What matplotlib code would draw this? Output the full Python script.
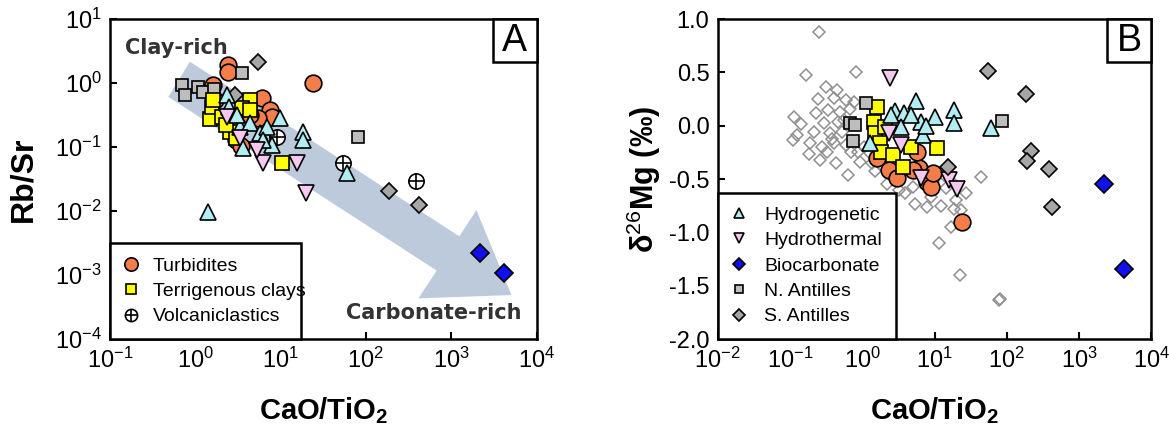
import matplotlib
matplotlib.use('Agg')
import matplotlib.pyplot as plt
from matplotlib.patches import Polygon, Rectangle
from matplotlib.legend_handler import HandlerTuple

plt.rcParams['font.family'] = ['Liberation Sans', 'DejaVu Sans']
plt.rcParams['mathtext.fontset'] = 'custom'
plt.rcParams['mathtext.rm'] = 'Liberation Sans'
plt.rcParams['mathtext.bf'] = 'Liberation Sans:bold'
plt.rcParams['mathtext.it'] = 'Liberation Sans:italic'

# ---- panel A data (CaO/TiO2 vs Rb/Sr) ----
turb_A_x = [2.43, 2.45, 24.2, 1.62, 6.1, 7.6, 8.0, 5.5, 3.0, 3.4, 4.4, 1.7, 2.8]
turb_A_y = [1.91, 1.49, 1.0, 0.93, 0.58, 0.38, 0.30, 0.28, 0.129, 0.104, 0.32, 0.54, 0.2]
nant_A_x = [0.70, 0.76, 1.08, 1.24, 1.66, 3.54, 81.5]
nant_A_y = [0.93, 0.65, 0.87, 0.72, 0.81, 1.43, 0.143]
terr_A_x = [1.49, 10.4, 4.4, 3.54, 2.56, 1.57, 2.06, 4.4, 1.6, 3.0, 2.3]
terr_A_y = [0.274, 0.056, 0.54, 0.41, 0.17, 0.42, 0.295, 0.38, 0.54, 0.14, 0.22]
sant_A_x = [5.46, 2.93, 188, 424]
sant_A_y = [2.13, 0.65, 0.0205, 0.0124]
volc_A_x = [54.3, 391, 9.1]
volc_A_y = [0.056, 0.0295, 0.143]
hydrog_A_x = [2.36, 2.5, 9.9, 18.4, 18.4, 60, 1.41, 3.36, 4.4, 5.75, 6.9, 7.9, 3.63, 6.3, 3.1]
hydrog_A_y = [0.65, 0.42, 0.28, 0.17, 0.128, 0.039, 0.0096, 0.205, 0.237, 0.166, 0.205, 0.107, 0.096, 0.128, 0.32]
hydrot_A_x = [2.36, 3.36, 6.25, 15.7, 20, 5.3]
hydrot_A_y = [0.295, 0.138, 0.056, 0.056, 0.019, 0.09]
bio_A_x = [2200, 4100]
bio_A_y = [0.0022, 0.00107]

# ---- panel B data (CaO/TiO2 vs d26Mg) ----
open_B_x = [0.252, 0.165, 0.81, 0.113, 0.123, 0.109, 0.316, 0.45, 0.246, 0.41, 0.59, 0.76,
            0.23, 0.34, 0.49, 0.67, 0.297, 0.46, 0.217, 0.36, 0.52, 0.19, 0.28, 0.41, 0.59,
            0.18, 0.26, 0.43, 0.63, 0.92, 0.86, 1.26, 1.04, 1.34, 1.95, 2.51, 3.9, 5.35, 7.8,
            12.4, 18.8, 23.2, 16.6, 27.4, 43.5, 11.4, 22.6, 77.6, 81.5, 14.6, 17.6, 8.8, 5.0,
            13.7, 20.0, 0.55, 0.38, 0.7, 1.5, 2.2, 3.2, 9.5, 0.14, 0.32]
open_B_y = [0.875, 0.475, 0.5, 0.084, -0.0875, -0.134, 0.36, 0.334, 0.25, 0.256, 0.24, 0.225,
            0.116, 0.147, 0.131, 0.16, 0.022, 0.0375, -0.056, -0.072, -0.056, -0.166, -0.197,
            -0.166, -0.18, -0.266, -0.322, -0.353, -0.4625, -0.3375, -0.244, -0.26, -0.197,
            -0.353, -0.384, -0.447, -0.634, -0.734, -0.76, -0.753, -0.784, -0.79, -0.947,
            -0.634, -0.478, -1.103, -1.4, -1.634, -1.625, -0.5875, -0.525, -0.666, -0.572,
            -0.4625, -0.697, 0.05, -0.12, -0.25, -0.42, -0.55, -0.6, -0.52, 0.02, -0.25]
turb_B_x = [24.1, 2.36, 3.03, 6.05, 7.8, 8.8, 5.7, 1.62, 9.4, 5.0]
turb_B_y = [-0.906, -0.416, -0.494, -0.4, -0.525, -0.572, -0.244, -0.306, -0.447, -0.415]
terr_B_x = [1.62, 1.43, 1.52, 1.73, 1.8, 2.68, 3.66, 4.71, 10.7, 2.08]
terr_B_y = [0.18, 0.04, -0.07, -0.166, -0.244, -0.275, -0.384, -0.197, -0.21, -0.01]
hydrog_B_x = [5.55, 18.3, 18.7, 59.6, 2.85, 3.8, 10, 6.5, 3.4, 6.9, 2.5, 4.7, 7.7, 1.26]
hydrog_B_y = [0.234, 0.147, 0.022, -0.02, 0.14, 0.12, 0.078, 0.037, -0.01, -0.087, 0.1, 0.1, 0.0, -0.166]
hydrot_B_x = [2.42, 2.36, 3.44, 6.45, 15.9, 20.5]
hydrot_B_y = [0.444, -0.07, -0.18, -0.49, -0.51, -0.59]
nant_B_x = [1.11, 0.67, 0.78, 0.74, 84.7]
nant_B_y = [0.216, 0.028, 0.006, -0.14, 0.047]
sant_B_x = [54.6, 185, 217, 187, 383, 418, 15.5]
sant_B_y = [0.516, 0.297, -0.234, -0.328, -0.406, -0.76, -0.384]
bio_B_x = [2220, 4160]
bio_B_y = [-0.55, -1.34]

ORANGE = '#f47d4a'
YELLOW = '#ffff00'
CYAN = '#b0eef3'
PINK = '#f6c8f0'
BLUE = '#1010ee'
GSQ = '#bdbdbd'
GDI = '#a6a6a6'
OPEN = '#8f8f8f'
ARROW = '#bccadc'

EW = 1.2


def style_axes(ax):
    for s in ax.spines.values():
        s.set_linewidth(1.8)
    ax.tick_params(which='major', direction='in', length=5, width=1.5,
                   labelsize=17, pad=6, top=False, right=False)
    ax.tick_params(which='minor', length=0)


def panel_label(ax, txt):
    ax.add_patch(Rectangle((0.898, 0.867), 0.102, 0.133, transform=ax.transAxes,
                           facecolor='white', edgecolor='black', lw=1.8, zorder=20,
                           clip_on=False))
    ax.text(0.949, 0.933, txt, transform=ax.transAxes, ha='center', va='center',
            fontsize=27, zorder=21)


fig = plt.figure(figsize=(11.69, 4.4), dpi=100)
axA = fig.add_axes([0.094, 0.2295, 0.365, 0.727])
axB = fig.add_axes([0.614, 0.2295, 0.371, 0.727])

# ---------------- panel A ----------------
axA.set_xscale('log')
axA.set_yscale('log')
axA.set_xlim(0.1, 1e4)
axA.set_ylim(1e-4, 10)

arrow = Polygon([(0.137, 0.757), (0.766, 0.214), (0.723, 0.127), (0.941, 0.1375),
                 (0.859, 0.403), (0.819, 0.321), (0.1875, 0.867)],
                closed=True, transform=axA.transAxes, facecolor=ARROW,
                edgecolor='none', zorder=1)
axA.add_patch(arrow)

hT, = axA.plot(turb_A_x, turb_A_y, 'o', ms=12, mfc=ORANGE, mec='black', mew=EW, zorder=3)
axA.plot(nant_A_x, nant_A_y, 's', ms=8.6, mfc=GSQ, mec='black', mew=EW, zorder=4)
hC, = axA.plot(terr_A_x, terr_A_y, 's', ms=9.6, mfc=YELLOW, mec='black', mew=EW, zorder=5)
axA.plot(sant_A_x, sant_A_y, 'D', ms=8.2, mfc=GDI, mec='black', mew=EW, zorder=5)
hV1, = axA.plot(volc_A_x, volc_A_y, 'o', ms=11, mfc='white', mec='black', mew=EW, zorder=6)
hV2, = axA.plot(volc_A_x, volc_A_y, '+', ms=11, mec='black', mew=EW, zorder=6)
axA.plot(hydrog_A_x, hydrog_A_y, '^', ms=11, mfc=CYAN, mec='black', mew=EW, zorder=7)
axA.plot(hydrot_A_x, hydrot_A_y, 'v', ms=11, mfc=PINK, mec='black', mew=EW, zorder=7)
axA.plot(bio_A_x, bio_A_y, 'D', ms=9, mfc=BLUE, mec='black', mew=EW, zorder=7)

axA.text(0.035, 0.911, 'Clay-rich', transform=axA.transAxes, fontsize=15,
         fontweight='bold', family='DejaVu Sans', color='#333333', va='center')
axA.text(0.965, 0.08, 'Carbonate-rich', transform=axA.transAxes, fontsize=15,
         fontweight='bold', family='DejaVu Sans', color='#333333', va='center', ha='right')

legA = axA.legend([hT, hC, (hV1, hV2)], ['Turbidites', 'Terrigenous clays', 'Volcaniclastics'],
                  handler_map={tuple: HandlerTuple(ndivide=1)},
                  loc='lower left', bbox_to_anchor=(0, 0, 0.448, 0.299), mode='expand',
                  borderaxespad=0, fancybox=False, framealpha=1, edgecolor='black',
                  fontsize=14, markerscale=0.8, handlelength=0.8, handletextpad=0.7,
                  labelspacing=0.4, borderpad=0.7)
legA.get_frame().set_linewidth(1.8)
legA.set_zorder(15)

axA.set_xlabel('CaO/TiO$_\\mathbf{2}$', fontsize=21, fontweight='bold', labelpad=16)
axA.set_ylabel('Rb/Sr', fontsize=23, fontweight='bold', labelpad=12)
style_axes(axA)
panel_label(axA, 'A')

# ---------------- panel B ----------------
axB.set_xscale('log')
axB.set_xlim(0.01, 1e4)
axB.set_ylim(-2.0, 1.0)
axB.set_yticks([-2.0, -1.5, -1.0, -0.5, 0.0, 0.5, 1.0])
axB.set_yticklabels(['-2.0', '-1.5', '-1.0', '-0.5', '0.0', '0.5', '1.0'])

axB.plot(open_B_x, open_B_y, 'D', ms=6.6, mfc='none', mec=OPEN, mew=1.1, zorder=2)
axB.plot(turb_B_x, turb_B_y, 'o', ms=12, mfc=ORANGE, mec='black', mew=EW, zorder=3)
axB.plot(terr_B_x, terr_B_y, 's', ms=9.6, mfc=YELLOW, mec='black', mew=EW, zorder=4)
h1, = axB.plot(hydrog_B_x, hydrog_B_y, '^', ms=11, mfc=CYAN, mec='black', mew=EW, zorder=5)
h2, = axB.plot(hydrot_B_x, hydrot_B_y, 'v', ms=11, mfc=PINK, mec='black', mew=EW, zorder=6)
h4, = axB.plot(nant_B_x, nant_B_y, 's', ms=8.6, mfc=GSQ, mec='black', mew=EW, zorder=4)
h5, = axB.plot(sant_B_x, sant_B_y, 'D', ms=8.2, mfc=GDI, mec='black', mew=EW, zorder=6)
h3, = axB.plot(bio_B_x, bio_B_y, 'D', ms=9, mfc=BLUE, mec='black', mew=EW, zorder=6)

legB = axB.legend([h1, h2, h3, h4, h5],
                  ['Hydrogenetic', 'Hydrothermal', 'Biocarbonate', 'N. Antilles', 'S. Antilles'],
                  loc='lower left', bbox_to_anchor=(0, 0, 0.412, 0.43), mode='expand',
                  borderaxespad=0, fancybox=False, framealpha=1, edgecolor='black',
                  fontsize=14, markerscale=0.7, handlelength=0.8, handletextpad=0.9,
                  labelspacing=0.4, borderpad=0.7)
legB.get_frame().set_linewidth(1.8)
legB.set_zorder(15)

axB.set_xlabel('CaO/TiO$_\\mathbf{2}$', fontsize=21, fontweight='bold', labelpad=16)
axB.set_ylabel('δ$^{26}$Mg (‰)', fontsize=22, fontweight='bold', labelpad=4)
style_axes(axB)
panel_label(axB, 'B')

fig.savefig('out.png', dpi=100)
